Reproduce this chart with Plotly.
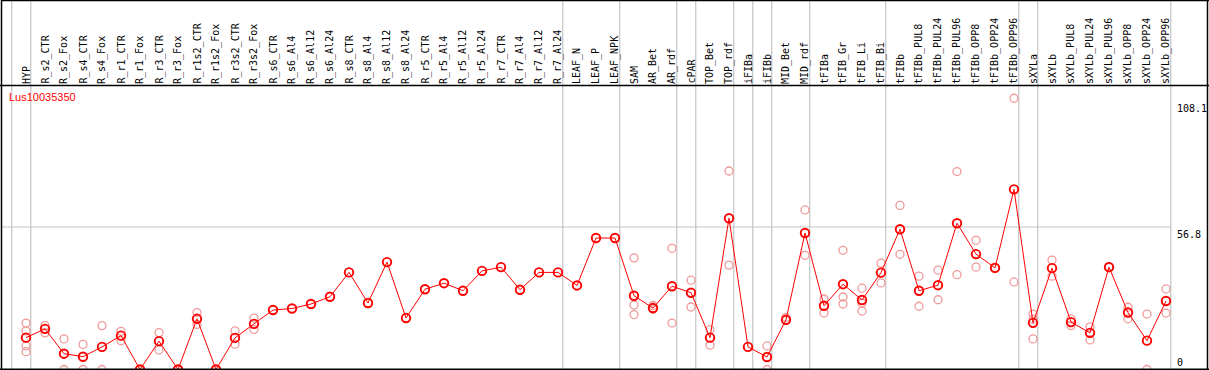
import plotly.graph_objects as go

categories = ["HYP", "R_s2_CTR", "R_s2_Fox", "R_s4_CTR", "R_s4_Fox", "R_r1_CTR", "R_r1_Fox",
              "R_r3_CTR", "R_r3_Fox", "R_r1s2_CTR", "R_r1s2_Fox", "R_r3s2_CTR", "R_r3s2_Fox",
              "R_s6_CTR", "R_s6_Al4", "R_s6_Al12", "R_s6_Al24", "R_s8_CTR", "R_s8_Al4", "R_s8_Al12",
              "R_s8_Al24", "R_r5_CTR", "R_r5_Al4", "R_r5_Al12", "R_r5_Al24", "R_r7_CTR", "R_r7_Al4",
              "R_r7_Al12", "R_r7_Al24", "LEAF_N", "LEAF_P", "LEAF_NPK", "SAM", "AR_Bet", "AR_rdf",
              "cPAR", "TOP_Bet", "TOP_rdf", "iFIBa", "iFIBb", "MID_Bet", "MID_rdf", "tFIBa",
              "tFIB_Gr", "tFIB_Li", "tFIB_Bi", "tFIBb", "tFIBb_PUL8", "tFIBb_PUL24", "tFIBb_PUL96",
              "tFIBb_OPP8", "tFIBb_OPP24", "tFIBb_OPP96", "sXYLa", "sXYLb", "sXYLb_PUL8",
              "sXYLb_PUL24", "sXYLb_PUL96", "sXYLb_OPP8", "sXYLb_OPP24", "sXYLb_OPP96"]

mean_values = [12.7, 16.2, 6.3, 5.1, 9.0, 13.5, 0, 11.3, 0, 20.2, 0, 12.6, 18.2,
               23.7, 24.3, 26.1, 29.0, 38.7, 26.5, 42.8, 20.5, 32.0, 34.4, 31.4, 39.3,
               40.8, 31.8, 38.7, 38.7, 33.5, 52.4, 52.4, 29.4, 24.5, 33.2, 30.6, 12.7,
               60.3, 9.0, 5.0, 19.8, 54.4, 25.4, 34.0, 27.7, 38.6, 55.9, 31.4, 33.6,
               58.3, 46.0, 40.5, 71.8, 18.6, 40.4, 18.9, 14.6, 40.8, 22.7, 11.5, 27.3]

rep_categories = (["HYP"] * 4 + ["R_s2_CTR"] * 2 + ["R_s2_Fox"] * 2 + ["R_s4_CTR"] * 2 +
                  ["R_s4_Fox"] * 2 + ["R_r1_CTR"] * 2 + ["R_r1_Fox"] * 2 + ["R_r3_CTR"] * 2 +
                  ["R_r3_Fox"] * 2 + ["R_r1s2_CTR"] * 2 + ["R_r1s2_Fox"] * 2 + ["R_r3s2_CTR"] * 2 +
                  ["R_r3s2_Fox"] * 2 + ["SAM"] * 3 + ["AR_Bet"] * 2 + ["AR_rdf"] * 2 + ["cPAR"] * 2 +
                  ["TOP_Bet"] * 2 + ["TOP_rdf"] * 2 + ["iFIBb"] * 2 + ["MID_Bet"] * 2 +
                  ["MID_rdf"] * 2 + ["tFIBa"] * 2 + ["tFIB_Gr"] * 3 + ["tFIB_Li"] * 3 +
                  ["tFIB_Bi"] * 2 + ["tFIBb"] * 2 + ["tFIBb_PUL8"] * 2 + ["tFIBb_PUL24"] * 2 +
                  ["tFIBb_PUL96"] * 2 + ["tFIBb_OPP8"] * 2 + ["tFIBb_OPP24"] * 2 +
                  ["tFIBb_OPP96"] * 2 + ["sXYLa"] * 3 + ["sXYLb"] * 2 + ["sXYLb_PUL8"] * 2 +
                  ["sXYLb_PUL24"] * 2 + ["sXYLb_PUL96"] * 2 + ["sXYLb_OPP8"] * 2 +
                  ["sXYLb_OPP24"] * 2 + ["sXYLb_OPP96"] * 2)

rep_values = [18.5, 15.4, 9.4, 7.1, 17.5, 14.6, 12.2, 0, 10.0, 0,
              17.5, 0, 15.2, 11.5, 0, 0, 14.7, 7.8, 0, 0,
              22.7, 18.0, 0, 0, 15.4, 10.1, 20.5, 16.0,
              44.5, 25.7, 21.9, 25.5, 24.0, 48.3, 18.5, 35.6, 24.9,
              15.9, 9.7, 79.1, 41.6, 9.4, 0, 20.8, 19.5,
              63.6, 45.5, 28.1, 22.5, 47.5, 28.9, 26.1, 32.4, 23.3, 26.4,
              42.4, 34.5, 65.4, 45.9, 37.2, 25.2, 39.6, 27.8,
              78.9, 37.8, 51.5, 40.8, 40.7, 40.3,
              108.1, 34.9, 22.1, 12.2, 20.0, 43.6, 37.2, 20.2, 17.5,
              17.0, 11.8, 41.0, 40.6, 24.8, 20.2, 22.1, 0, 32.1, 22.5]

separator_after = [-1, 0, 28, 31, 34, 35, 37, 38, 39, 41, 45, 52, 53, 60]
y_ticks = [0, 56.8, 108.1]
gene_name = "Lus10035350"

W, H = 1209, 370
PX_PER_UNIT = 2.518
ZERO_PX = 370.5
x_lo = -26 / 19
x_hi = (W - 26) / 19
y_lo = (ZERO_PX - 370) / -PX_PER_UNIT
y_hi = (ZERO_PX - 85) / PX_PER_UNIT

fig = go.Figure()
fig.add_trace(go.Scatter(
    x=rep_categories, y=rep_values, mode="markers",
    marker=dict(symbol="circle-open", size=8, color="#f09a9a", line=dict(width=1.3, color="#f09a9a")),
    cliponaxis=False, showlegend=False, hoverinfo="skip"))
fig.add_trace(go.Scatter(
    x=categories, y=mean_values, mode="lines+markers",
    line=dict(color="#ff0000", width=1),
    marker=dict(symbol="circle-open", size=8.5, color="#ff0000", line=dict(width=1.9, color="#ff0000")),
    cliponaxis=False, showlegend=False))

shapes = []
for s in separator_after:
    shapes.append(dict(type="line", xref="x", yref="paper", x0=s + 0.25, x1=s + 0.25,
                       y0=0.5 / H, y1=1, line=dict(color="#c4c4c4", width=1.2), layer="below"))
shapes.append(dict(type="line", xref="paper", yref="y", x0=1.5 / W, x1=(60.25 * 19 + 26) / W,
                   y0=y_ticks[1], y1=y_ticks[1], line=dict(color="#c4c4c4", width=1.2), layer="below"))
black = dict(color="black", width=1.5)
shapes += [
    dict(type="line", xref="paper", yref="paper", x0=1.5 / W, x1=1, y0=1 - 0.5 / H, y1=1 - 0.5 / H, line=black),
    dict(type="line", xref="paper", yref="paper", x0=0, x1=1, y0=(H - 85.5) / H, y1=(H - 85.5) / H, line=black),
    dict(type="line", xref="paper", yref="paper", x0=0, x1=1, y0=0.8 / H, y1=0.8 / H, line=black),
    dict(type="line", xref="paper", yref="paper", x0=1.5 / W, x1=1.5 / W, y0=0, y1=1, line=black),
    dict(type="line", xref="paper", yref="paper", x0=(W - 1.5) / W, x1=(W - 1.5) / W, y0=1, y1=0, line=black),
]

mono = "DejaVu Sans Mono"
annotations = [dict(text=gene_name, xref="paper", yref="paper", x=7 / W, y=(H - 97) / H,
                    xanchor="left", yanchor="middle", showarrow=False,
                    font=dict(family="Liberation Sans, Arial", size=11, color="#ff0000"))]
for v, anchor, shift in zip(y_ticks, ["bottom", "top", "top"], [0, 0, -3]):
    annotations.append(dict(text=("%g" % v), xref="paper", yref="y", x=1175 / W, y=v,
                            xanchor="left", yanchor=anchor, yshift=shift, showarrow=False,
                            font=dict(family=mono, size=10, color="black")))
for c in categories:
    annotations.append(dict(text=c, xref="x", yref="paper", x=c, y=(H - 85) / H,
                            textangle=-90, xanchor="center", yanchor="bottom", yshift=0,
                            showarrow=False, borderpad=0,
                            font=dict(family=mono, size=10, color="black")))

fig.update_layout(
    width=W, height=H, margin=dict(l=0, r=0, t=0, b=0),
    paper_bgcolor="white", plot_bgcolor="white",
    xaxis=dict(type="category", categoryarray=categories, categoryorder="array",
               range=[x_lo, x_hi], showticklabels=False, showgrid=False, zeroline=False,
               showline=False, ticks=""),
    yaxis=dict(domain=[0, (H - 85) / H], range=[y_lo, y_hi], showgrid=False, zeroline=False,
               showticklabels=False, showline=False),
    shapes=shapes, annotations=annotations,
)

fig.write_html("out.html", config={"displayModeBar": False},
               post_script="document.body.style.margin='0';document.body.style.overflow='hidden';")
